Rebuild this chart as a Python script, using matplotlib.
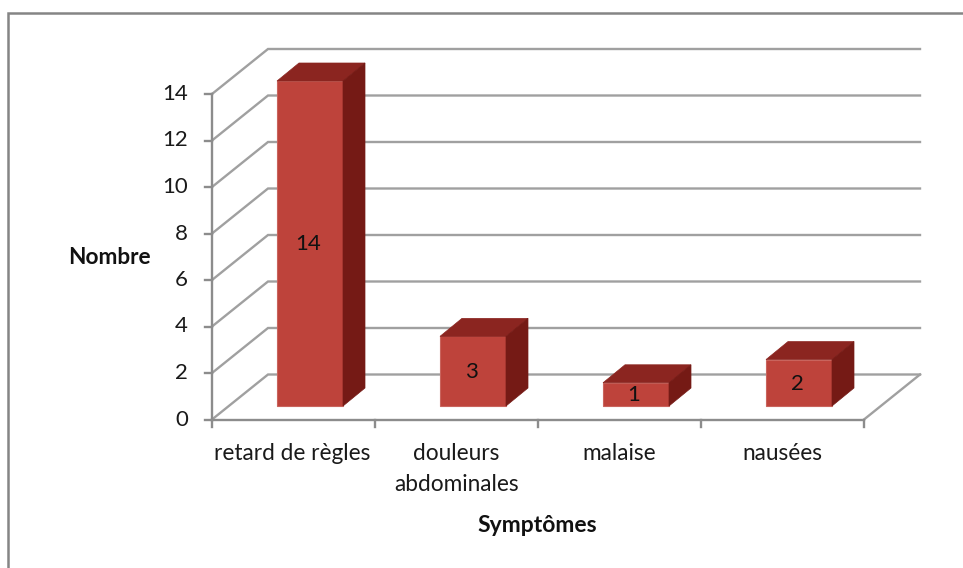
import matplotlib
matplotlib.use('Agg')
import matplotlib.pyplot as plt
from matplotlib.patches import Polygon

plt.rcParams['font.family'] = ['Lato', 'DejaVu Sans']

categories = ['retard de règles', 'douleurs\nabdominales', 'malaise', 'nausées']
values = [14, 3, 1, 2]
yticks = [0, 2, 4, 6, 8, 10, 12, 14]

# pixel scale of the picture
W, H = 963, 568
x0, y0 = 212, 419.5
cat_w, unit = 163, 23.25

fig = plt.figure(figsize=(W / 100, H / 100), dpi=100)
ax = fig.add_axes([0, 0, 1, 1])
ax.set_xlim(-x0 / cat_w, (W - x0) / cat_w)
ax.set_ylim((y0 - H) / unit, y0 / unit)
ax.axis('off')

n = len(categories)
grid_c = '#a0a0a0'
axis_c = '#8c8c8c'
lw = 1.7

# depth of the box, in data units
dx, dy = 56 / cat_w, 45 / unit
for v in yticks:
    ax.plot([0, dx, n + dx], [v, v + dy, v + dy], color=grid_c, lw=lw, zorder=1, solid_joinstyle='miter')
    ax.plot([-7 / cat_w, 0], [v, v], color=axis_c, lw=lw, zorder=2)
    ax.text(-24 / cat_w, v, str(v), ha='right', va='center', fontsize=16, color='#1a1a1a')

# axes
ax.plot([0, 0], [0, 14], color=axis_c, lw=lw, zorder=2)
ax.plot([0, n], [0, 0], color=axis_c, lw=lw, zorder=2)
ax.plot([n, n + dx], [0, dy], color=grid_c, lw=lw, zorder=2)
for i in range(n + 1):
    ax.plot([i, i], [0, -7 / unit], color=axis_c, lw=lw, zorder=2)

# bars
bar_w = 66 / cat_w
bx, by = 22 / cat_w, 18 / unit
base = (y0 - 406) / unit
for i, v in enumerate(values):
    left = i + 65 / cat_w
    right = left + bar_w
    top = base + v * (406 - 81) / 14 / unit
    ax.add_patch(Polygon([(left, base), (right, base), (right, top), (left, top)],
                         fc='#be433b', ec='#c9645d', lw=0.8, zorder=3))
    ax.add_patch(Polygon([(left, top), (right, top), (right + bx, top + by), (left + bx, top + by)],
                         fc='#8b2520', ec='#8b2520', lw=0.5, zorder=3))
    ax.add_patch(Polygon([(right, base), (right + bx, base + by), (right + bx, top + by), (right, top)],
                         fc='#751a15', ec='#751a15', lw=0.5, zorder=3))
    ax.text((left + right) / 2 - 2 / cat_w, (base + top) / 2 - 1 / unit, str(v), ha='center', va='center',
            fontsize=16, color='#111111', zorder=4)

# category labels
for i, c in enumerate(categories):
    ax.text(i + 0.5 - (c == categories[0]) * 1 / cat_w, (y0 - 443) / unit, c, ha='center', va='top',
            fontsize=16.3, color='#1a1a1a', linespacing=1.58)

ax.text((109 - x0) / cat_w, (y0 - 257) / unit, 'Nombre', ha='center', va='center',
        fontsize=16.3, fontweight='bold', color='#111111')
ax.text((537 - x0) / cat_w, (y0 - 525) / unit, 'Symptômes', ha='center', va='center',
        fontsize=16.5, fontweight='bold', color='#111111')

# outer frame, cut by the picture edge
ax.plot([(963 - x0) / cat_w, (8 - x0) / cat_w, (8 - x0) / cat_w],
        [(y0 - 12.5) / unit, (y0 - 12.5) / unit, (y0 - 568) / unit],
        color='#858585', lw=1.8, zorder=1, solid_joinstyle='miter')

fig.savefig('out.png', dpi=100)
